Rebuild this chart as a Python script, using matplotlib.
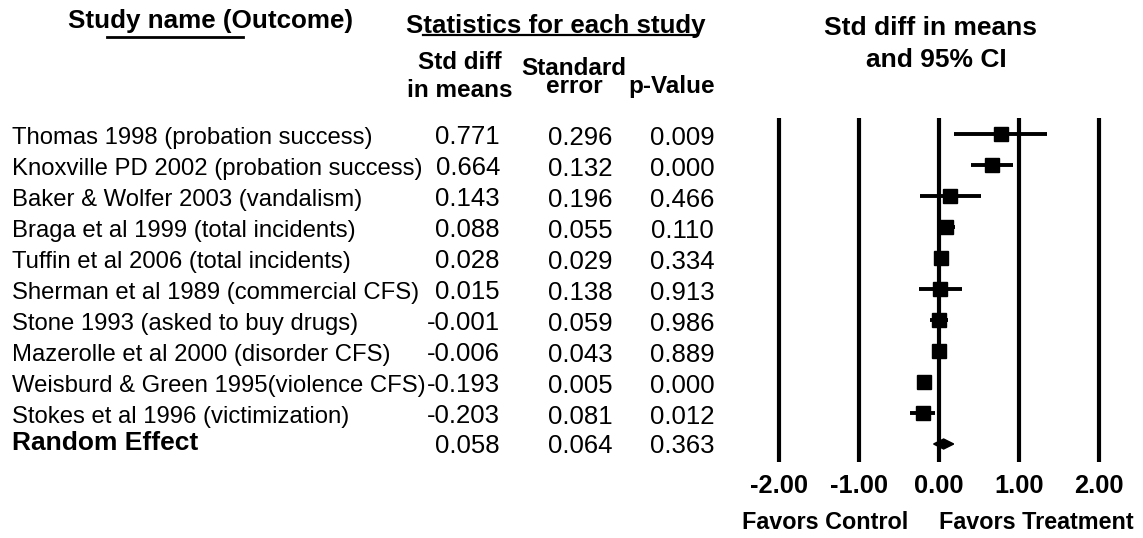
import matplotlib
matplotlib.use("Agg")
import matplotlib.pyplot as plt
from matplotlib import font_manager
from matplotlib.lines import Line2D
from matplotlib.patches import Polygon

# ---------------- data ----------------
studies = [
    "Thomas 1998 (probation success)",
    "Knoxville PD 2002 (probation success)",
    "Baker & Wolfer 2003 (vandalism)",
    "Braga et al 1999 (total incidents)",
    "Tuffin et al 2006 (total incidents)",
    "Sherman et al 1989 (commercial CFS)",
    "Stone 1993 (asked to buy drugs)",
    "Mazerolle et al 2000 (disorder CFS)",
    "Weisburd & Green 1995(violence CFS)",
    "Stokes et al 1996 (victimization)",
]
std_diff = [0.771, 0.664, 0.143, 0.088, 0.028, 0.015, -0.001, -0.006, -0.193, -0.203]
std_err = [0.296, 0.132, 0.196, 0.055, 0.029, 0.138, 0.059, 0.043, 0.005, 0.081]
p_value = [0.009, 0.000, 0.466, 0.110, 0.334, 0.913, 0.986, 0.889, 0.000, 0.012]

summary_label = "Random Effect"
summary_diff = 0.058
summary_se = 0.064
summary_p = 0.363

x_ticks = [-2.0, -1.0, 0.0, 1.0, 2.0]
z95 = 1.96

# ---------------- fonts ----------------
names = {f.name for f in font_manager.fontManager.ttflist}
BASE = "Liberation Sans" if "Liberation Sans" in names else "DejaVu Sans"

W, H = 1143, 538
fig = plt.figure(figsize=(W / 100, H / 100), dpi=100)
fig.patch.set_facecolor("white")


def fx(x):
    return x / W


def fy(y):
    return 1 - y / H


def ptext(x, y_center, s, size, ha="left", weight="normal", capfrac=0.36):
    em = size / 0.72
    base = y_center + capfrac * em
    fig.text(fx(x), fy(base), s, ha=ha, va="baseline", fontsize=size,
             fontweight=weight, family=BASE, color="black")


def btext(x, baseline, s, size, ha="center", weight="bold"):
    fig.text(fx(x), fy(baseline), s, ha=ha, va="baseline", fontsize=size,
             fontweight=weight, family=BASE, color="black")


def block(x, first_base, last_base, s, size):
    """Two-line bold header drawn as one text; baselines given in px."""
    em = size / 0.72
    desc = 0.21 * em
    ls = ((last_base - first_base) - desc) / (0.716 * em)
    fig.text(fx(x), fy(last_base + desc), s, ha="center", va="bottom",
             multialignment="center", fontsize=size, fontweight="bold",
             family=BASE, linespacing=ls, color="black")


# row pixel centres (layout)
row_top, row_step = 134, 31


def row_y(i):
    return row_top + row_step * i


# ---------------- headers ----------------
btext(211, 28, "Study name (Outcome)", 18.7)
fig.add_artist(Line2D([fx(107), fx(243)], [fy(37), fy(37)], color="black", lw=2.0,
                      transform=fig.transFigure))
btext(556, 33, "Statistics for each study", 18.6)
fig.add_artist(Line2D([fx(423), fx(698)], [fy(35), fy(35)], color="black", lw=1.6,
                      transform=fig.transFigure))
block(460, 70, 97, "Std diff\nin means", 17.5)
block(574, 75, 93, "Standard\nerror", 17.5)
btext(672, 93, "p-Value", 17.5)

btext(931, 35, "Std diff in means", 19)
btext(936, 67, "and 95% CI", 19)

# ---------------- table ----------------
for i, (name, d, se, p) in enumerate(zip(studies, std_diff, std_err, p_value)):
    y = row_y(i)
    ptext(12, y + 1, name, 17.2)
    ptext(500, y + 1, f"{d:.3f}", 18.5, ha="right")
    ptext(580, y + 2, f"{se:.3f}", 18.5, ha="center")
    ptext(682, y + 2, f"{p:.3f}", 18.5, ha="center")

ys = row_y(len(studies))
ptext(12, ys - 3, summary_label, 19, weight="bold")
ptext(500, ys, f"{summary_diff:.3f}", 18.5, ha="right")
ptext(580, ys, f"{summary_se:.3f}", 18.5, ha="center")
ptext(682, ys, f"{summary_p:.3f}", 18.5, ha="center")

# ---------------- forest plot ----------------
ax_left, ax_width = 739, 400
ax_top, ax_bottom = 100, 462
ax = fig.add_axes([fx(ax_left), fy(ax_bottom), ax_width / W, (ax_bottom - ax_top) / H])
ax.set_xlim(-2.5, 2.5)
ax.set_ylim((ax_bottom - row_top) / row_step, (ax_top - row_top) / row_step)
ax.axis("off")

grid_top = (118 - row_top) / row_step
grid_bot = (ax_bottom - row_top) / row_step
ax.vlines(x_ticks, grid_bot, grid_top, color="black", lw=3.0)

for i, (d, se) in enumerate(zip(std_diff, std_err)):
    lo, hi = d - z95 * se, d + z95 * se
    ax.plot([lo, hi], [i, i], color="black", lw=2.8, solid_capstyle="butt")
    ax.plot([d], [i], marker="s", markersize=10, color="black", mec="black")

n = len(studies)
slo, shi = summary_diff - z95 * summary_se, summary_diff + z95 * summary_se
h = 5 / row_step
ax.add_patch(Polygon([[slo, n], [summary_diff, n - h], [shi, n], [summary_diff, n + h]],
                     closed=True, facecolor="black", edgecolor="black", lw=1.0))

# tick labels from the axis scale
tick_ax = fig.add_axes([fx(ax_left), fy(ax_bottom), ax_width / W, 0.0001])
tick_ax.set_xlim(-2.5, 2.5)
tick_ax.set_xticks(x_ticks)
tick_ax.set_xticklabels([f"{t:.2f}" for t in x_ticks], fontsize=18.3,
                        fontweight="bold", family=BASE)
tick_ax.tick_params(axis="x", length=0, pad=8.5)
tick_ax.set_yticks([])
for s in tick_ax.spines.values():
    s.set_visible(False)
tick_ax.patch.set_alpha(0)

ptext(825, 521, "Favors Control", 16.8, ha="center", weight="bold")
ptext(1036, 521, "Favors Treatment", 16.8, ha="center", weight="bold")

fig.savefig("out.png", dpi=100, facecolor="white")
